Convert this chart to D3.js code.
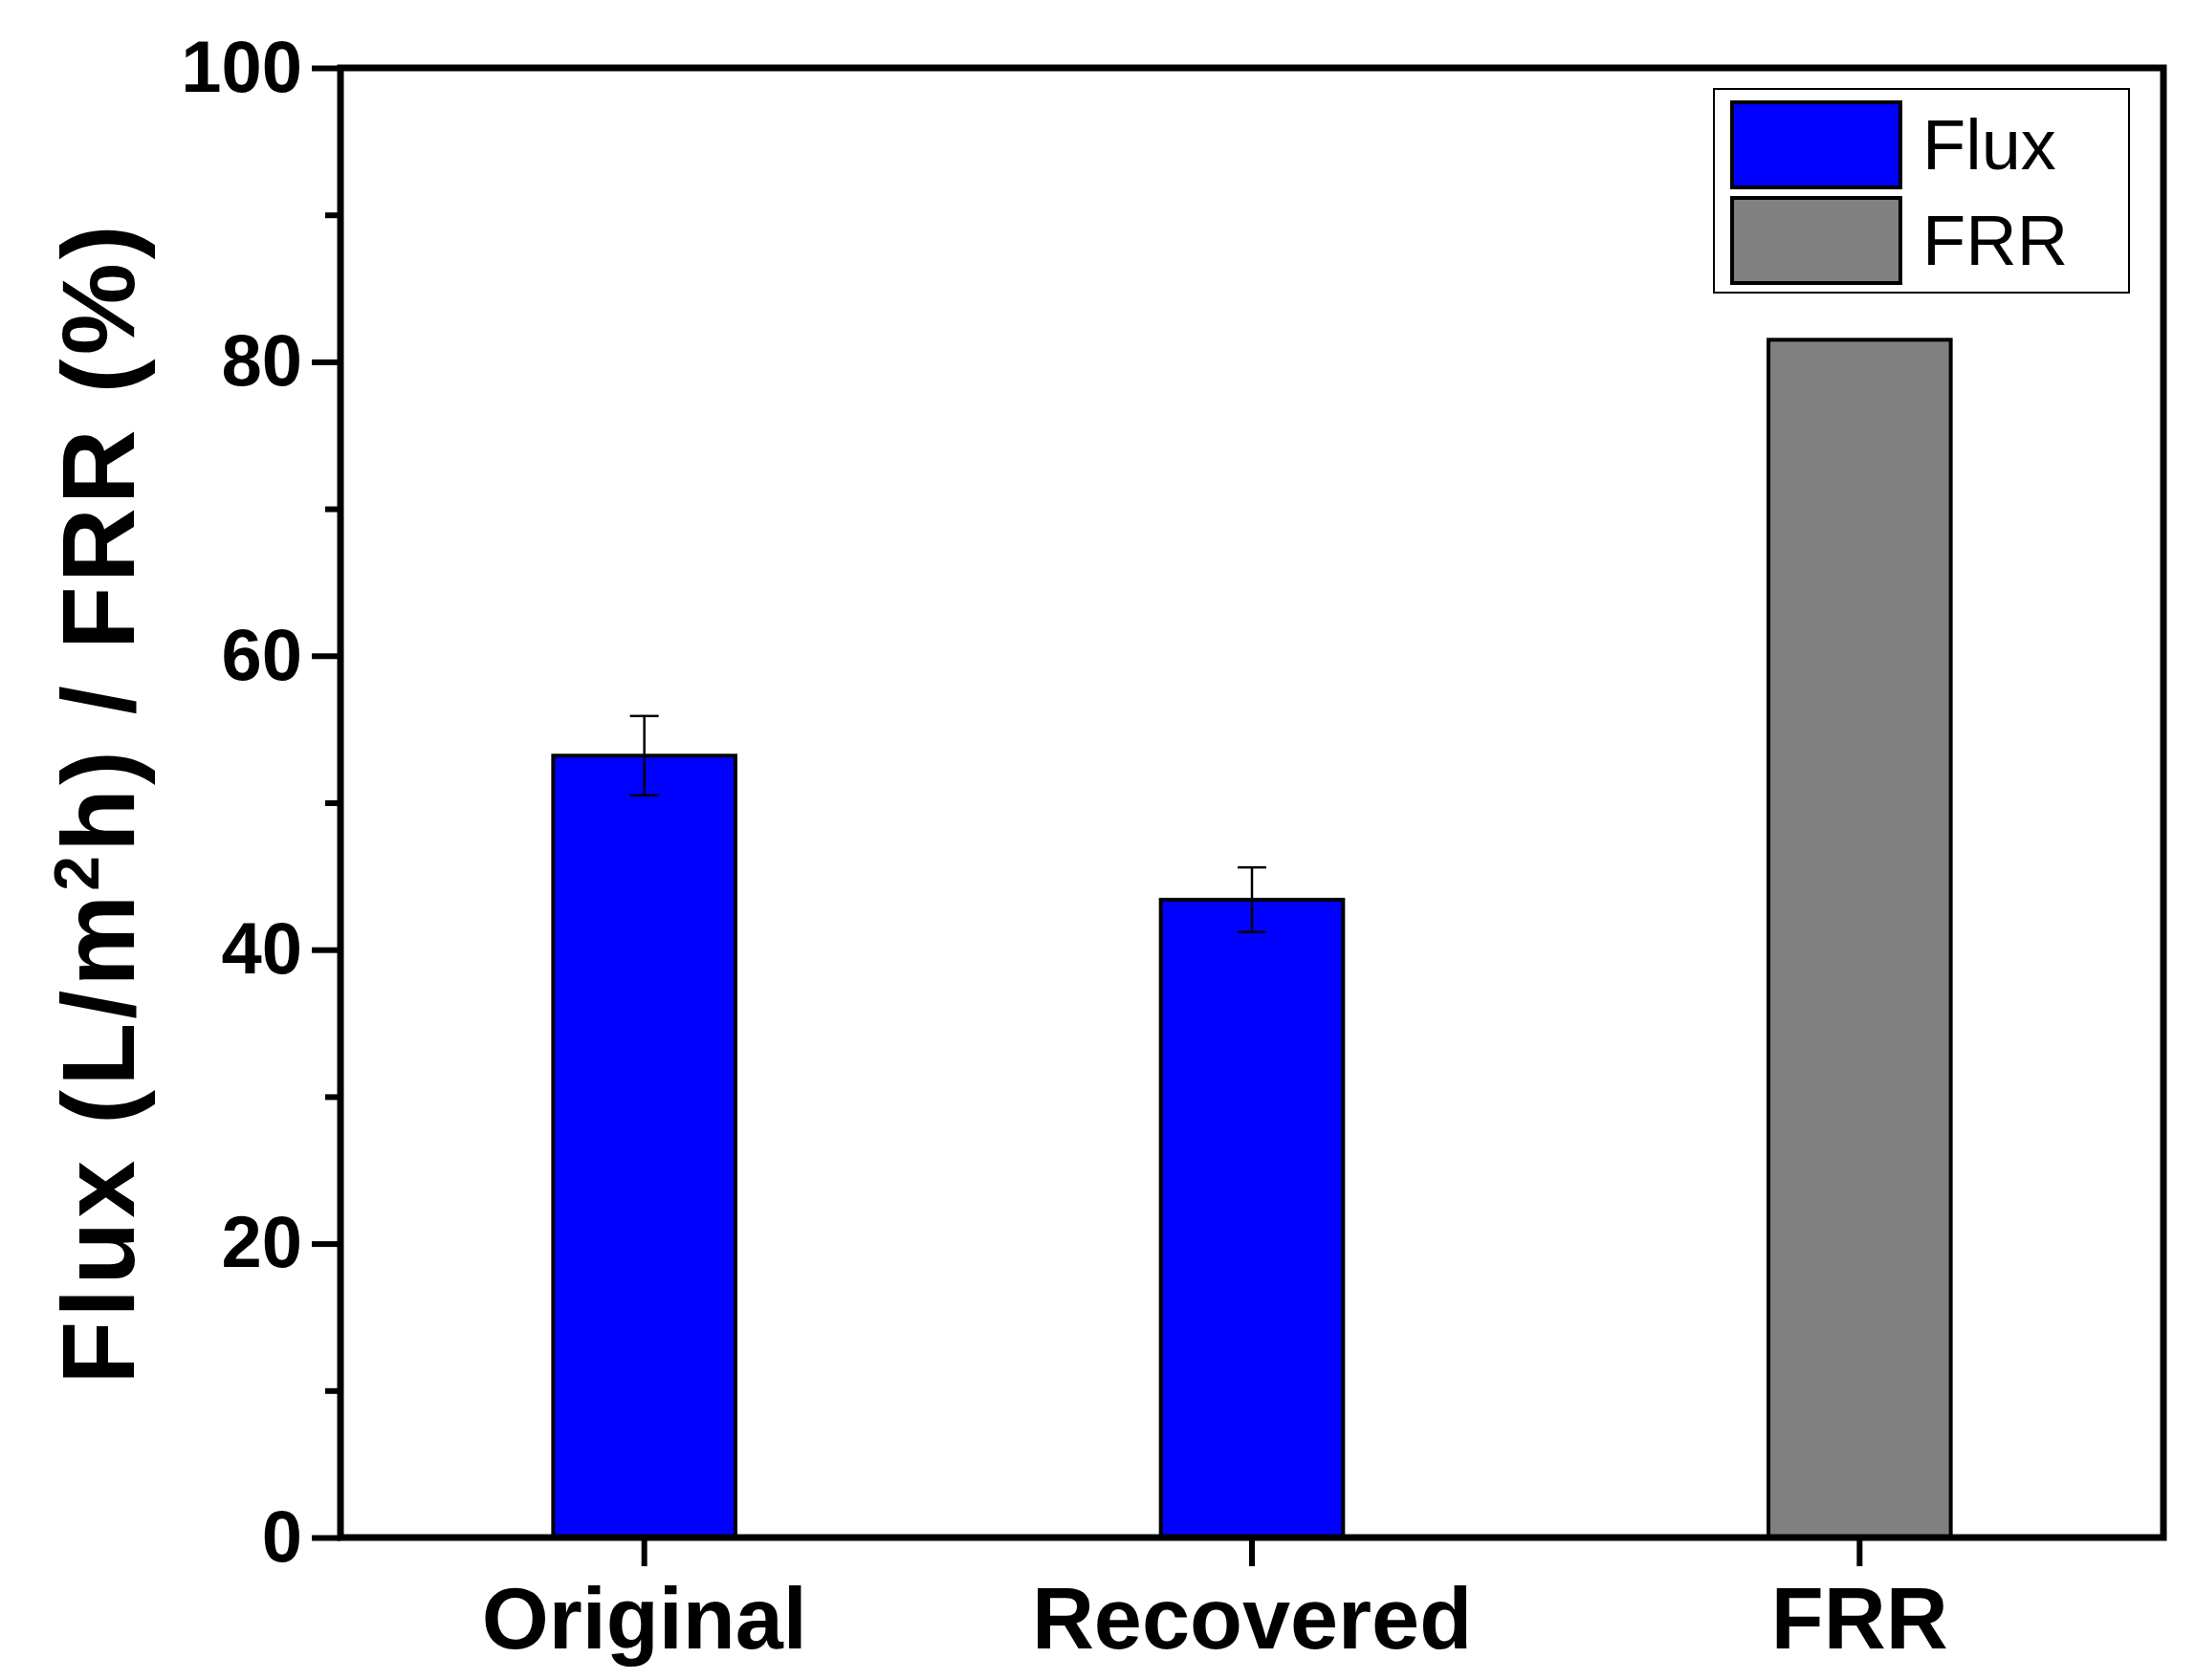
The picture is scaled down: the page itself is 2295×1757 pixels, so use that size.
<!DOCTYPE html>
<html><head><meta charset="utf-8">
<script src="https://cdn.jsdelivr.net/npm/d3@7"></script>
<style>body{margin:0;background:#fff}</style>
</head><body>
<svg id="chart" width="2295" height="1757"></svg>
<script>
const categories = ["Original", "Recovered", "FRR"];
const values = [53.2, 43.4, 81.5];
const errors = [2.7, 2.2, 0];
const barColors = ["#0000ff", "#0000ff", "#808080"];
const legendLabels = ["Flux", "FRR"];
const legendColors = ["#0000ff", "#808080"];
const yTicks = [0, 20, 40, 60, 80, 100];
const yMinor = [10, 30, 50, 70, 90];

const svg = d3.select("#chart");
const mLeft = 356, mRight = 2262, mTop = 71, mBottom = 1608;

const x = d3.scaleBand().domain(categories).range([mLeft, mRight]).padding(0);
const y = d3.scaleLinear().domain([0, 100]).range([mBottom, mTop]);
const barW = x.bandwidth() * 0.3;

// bars
svg.selectAll("rect.bar").data(values).enter().append("rect")
    .attr("x", (d, i) => x(categories[i]) + x.bandwidth() / 2 - barW / 2)
    .attr("y", d => y(d))
    .attr("width", barW)
    .attr("height", d => y(0) - y(d))
    .attr("fill", (d, i) => barColors[i])
    .attr("stroke", "#000").attr("stroke-width", 4);

// error bars
values.forEach(function (v, i) {
    if (!errors[i]) return;
    const cx = x(categories[i]) + x.bandwidth() / 2;
    const g = svg.append("g").attr("stroke", "#000").attr("stroke-width", 2.5);
    g.append("line").attr("x1", cx).attr("x2", cx).attr("y1", y(v + errors[i])).attr("y2", y(v - errors[i]));
    [v + errors[i], v - errors[i]].forEach(e => {
        g.append("line").attr("x1", cx - 15).attr("x2", cx + 15).attr("y1", y(e)).attr("y2", y(e));
    });
});

// y axis
const yAxis = svg.append("g").attr("transform", `translate(${mLeft},0)`)
    .call(d3.axisLeft(y).tickValues(yTicks).tickSize(30).tickPadding(10));
yAxis.selectAll("text").attr("font-family", "Liberation Sans, Arial").attr("font-weight", "bold")
    .attr("font-size", 76).attr("fill", "#000");
yAxis.selectAll("line").attr("stroke-width", 6);
yAxis.select(".domain").remove();
svg.append("g").attr("transform", `translate(${mLeft},0)`)
    .call(d3.axisLeft(y).tickValues(yMinor).tickSize(16).tickFormat(""))
    .call(g => g.select(".domain").remove())
    .selectAll("line").attr("stroke-width", 6);

// x axis
const xAxis = svg.append("g").attr("transform", `translate(0,${mBottom})`)
    .call(d3.axisBottom(x).tickSize(30).tickPadding(22));
xAxis.selectAll("text").attr("font-family", "Liberation Sans, Arial").attr("font-weight", "bold")
    .attr("font-size", 90).attr("fill", "#000");
xAxis.selectAll("line").attr("stroke-width", 6);
xAxis.select(".domain").remove();

// frame
svg.append("rect").attr("x", mLeft).attr("y", mTop).attr("width", mRight - mLeft).attr("height", mBottom - mTop)
    .attr("fill", "none").attr("stroke", "#000").attr("stroke-width", 7);

// y title
svg.append("text")
    .attr("transform", `translate(140,${(mTop + mBottom) / 2}) rotate(-90)`)
    .attr("text-anchor", "middle")
    .attr("font-family", "Liberation Sans, Arial").attr("font-weight", "bold").attr("font-size", 108)
    .attr("letter-spacing", 4)
    .html('Flux (L/m<tspan baseline-shift="super" font-size="66">2</tspan>h) / FRR (%)');

// legend
const lg = svg.append("g");
lg.append("rect").attr("x", 1792).attr("y", 93).attr("width", 434).attr("height", 213)
    .attr("fill", "#fff").attr("stroke", "#000").attr("stroke-width", 2);
legendLabels.forEach(function (l, i) {
    lg.append("rect").attr("x", 1811).attr("y", 107 + i * 100).attr("width", 176).attr("height", 89)
        .attr("fill", legendColors[i]).attr("stroke", "#000").attr("stroke-width", 4);
    lg.append("text").attr("x", 2010).attr("y", 151 + i * 100).attr("dy", "0.35em")
        .attr("font-family", "Liberation Sans, Arial").attr("font-size", 74).text(l);
});
</script>
</body></html>
